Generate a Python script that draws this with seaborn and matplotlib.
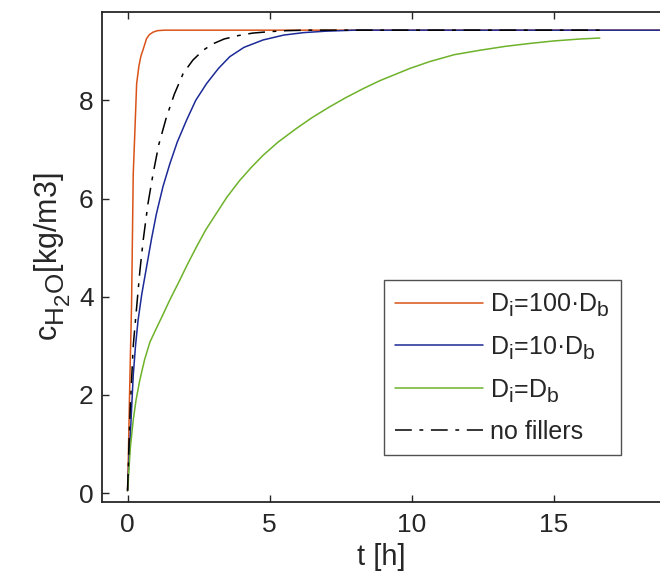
import numpy as np
import pandas as pd
import seaborn as sns
import matplotlib
matplotlib.use("Agg")
import matplotlib.pyplot as plt
import matplotlib._mathtext as mt

# values
t_100 = [0, 0.03, 0.07, 0.1, 0.14, 0.2, 0.26, 0.32, 0.4, 0.47, 0.55, 0.67, 0.77, 0.9, 1.05, 1.3, 19.0]
c_100 = [0.05, 0.8, 2.0, 2.8, 3.8, 6.5, 7.4, 8.34, 8.7, 8.9, 9.04, 9.26, 9.34, 9.39, 9.42, 9.43, 9.43]

t_10 = [0, 0.02, 0.05, 0.1, 0.2, 0.28, 0.37, 0.5, 0.67, 0.85, 1.02, 1.25, 1.49, 1.75, 2.08,
        2.4, 2.78, 3.2, 3.6, 4.1, 4.77, 5.5, 6.2, 7.0, 8.0, 19.0]
c_10 = [0.05, 0.3, 0.7, 1.22, 2.4, 3.0, 3.52, 4.05, 4.61, 5.2, 5.7, 6.25, 6.71, 7.15, 7.6,
        8.0, 8.34, 8.65, 8.89, 9.08, 9.23, 9.33, 9.38, 9.41, 9.43, 9.43]

t_1 = [0, 0.02, 0.05, 0.1, 0.2, 0.3, 0.43, 0.6, 0.79, 1.0, 1.2, 1.5, 1.84, 2.1, 2.43, 2.75,
       3.13, 3.5, 3.95, 4.35, 4.77, 5.3, 5.95, 6.5, 7.12, 7.7, 8.3, 8.88, 9.94, 10.64, 11.5,
       12.4, 13.3, 14.17, 15.0, 15.93, 16.63]
c_1 = [0.05, 0.2, 0.5, 0.94, 1.49, 1.9, 2.3, 2.72, 3.08, 3.34, 3.58, 3.95, 4.34, 4.65, 5.02, 5.36,
       5.7, 6.03, 6.37, 6.63, 6.88, 7.15, 7.43, 7.65, 7.87, 8.06, 8.24, 8.4, 8.65, 8.79, 8.93,
       9.02, 9.1, 9.16, 9.21, 9.25, 9.27]

t_nf = [0, 0.02, 0.05, 0.1, 0.2, 0.32, 0.43, 0.55, 0.72, 0.9, 1.1, 1.37, 1.65, 1.96, 2.3,
        2.66, 3.0, 3.4, 3.9, 4.4, 5.0, 5.6, 6.3, 7.2, 16.63]
c_nf = [0.05, 0.4, 1.0, 1.8, 3.0, 3.79, 4.5, 5.15, 5.9, 6.51, 7.1, 7.66, 8.13, 8.55, 8.82,
        9.02, 9.15, 9.25, 9.32, 9.37, 9.4, 9.42, 9.43, 9.43, 9.43]

labels = ["D$_i$=100·D$_b$", "D$_i$=10·D$_b$", "D$_i$=D$_b$", "no fillers"]

# MATLAB-style subscripts: nearly full size and dropped lower
mt.SHRINK_FACTOR = 0.85
mt.FontConstantsBase.sub1 = 0.42
mt.FontConstantsBase.sub2 = 0.6

sns.set_style("ticks")
plt.rcParams["font.family"] = ["Liberation Sans", "DejaVu Sans"]
plt.rcParams["mathtext.default"] = "regular"
plt.rcParams["mathtext.fontset"] = "custom"
plt.rcParams["mathtext.rm"] = "Liberation Sans"
plt.rcParams["mathtext.it"] = "Liberation Sans"

fig = plt.figure(figsize=(6.6, 5.87), dpi=100)
ax = fig.add_axes([102 / 660, 1 - 502 / 587, 1 - 102 / 660, (502 - 12) / 587])

dash = (11, 5, 2.5, 5)
sns.lineplot(x=t_100, y=c_100, color="#D95319", lw=1.1, label=labels[0],
             sort=False, estimator=None, ax=ax)
sns.lineplot(x=t_10, y=c_10, color="#1B2A96", lw=1.1, label=labels[1],
             sort=False, estimator=None, ax=ax)
sns.lineplot(x=t_1, y=c_1, color="#6DB22A", lw=1.1, label=labels[2],
             sort=False, estimator=None, ax=ax)
sns.lineplot(x=t_nf, y=c_nf, color="black", lw=1.1, label=labels[3],
             sort=False, estimator=None, ax=ax)
ax.lines[3].set_dashes(dash)

ax.set_xlim(-0.9, 18.75)
ax.set_ylim(-0.18, 9.8)
ax.set_xticks([0, 5, 10, 15])
ax.set_yticks([0, 2, 4, 6, 8])
ax.tick_params(direction="in", length=5, width=1, labelsize=19,
               colors="#262626", top=True, pad=8)
ax.tick_params(axis="y", pad=6)
for s in ["left", "top", "bottom"]:
    ax.spines[s].set_linewidth(1.3)
    ax.spines[s].set_color("#262626")
ax.spines["right"].set_visible(False)

ax.set_xlabel("t [h]", fontsize=21, color="#262626", labelpad=4)
ax.set_ylabel("c$_{H_2O}$[kg/m3]", fontsize=22, color="#262626", labelpad=4)

leg = ax.legend(loc="upper left", bbox_to_anchor=(282 / 558, 1 - 268 / 490),
                fontsize=18, frameon=True, fancybox=False, handlelength=3.5,
                handletextpad=0.3, borderpad=0.45, labelspacing=0.6,
                borderaxespad=0)
leg.get_frame().set_edgecolor("#262626")
leg.get_frame().set_linewidth(1.0)
leg.get_lines()[3].set_dashes(dash)

fig.savefig("out.png", dpi=100)
